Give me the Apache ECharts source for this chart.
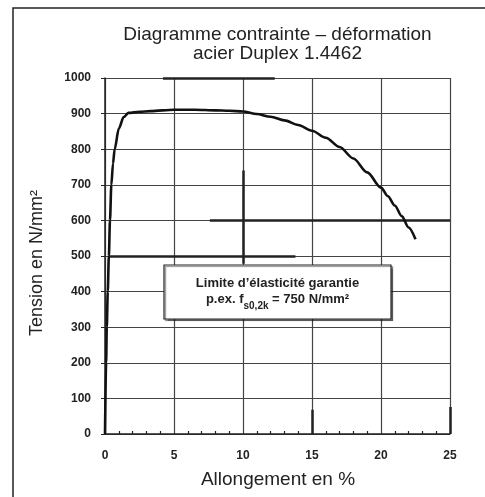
<!DOCTYPE html>
<html>
<head>
<meta charset="utf-8">
<script src="https://cdn.jsdelivr.net/npm/echarts@6/dist/echarts.min.js"></script>
<style>
  html, body { margin: 0; padding: 0; background: #fff; }
  #chartMain { width: 485px; height: 497px; }
</style>
</head>
<body>
<div id="chartMain"></div>
<script>
// allongement (%) et tension (N/mm²)
var strain = [0, 0.08, 0.13, 0.2, 0.28, 0.36, 0.46, 0.58, 0.7, 1.0, 1.35, 1.7, 2.5, 3.3, 5, 6.5, 8, 9, 10, 11, 12, 13, 14, 15, 16, 17, 18, 19, 20, 20.5, 21, 21.5, 22, 22.5];
var stress = [0, 200, 300, 400, 500, 600, 700, 760, 800, 858, 890, 902, 905, 907, 911, 911, 909, 908, 906, 899, 891, 881, 868, 852, 832, 806, 774, 735, 692, 668, 642, 612, 580, 547];

// traits de grille plus épais (défauts d'impression de l'original)
var thickSegments = [
  [[4.2, 1000], [12.3, 1000]],
  [[7.6, 600], [25, 600]],
  [[0.3, 500], [13.8, 500]],
  [[10, 740], [10, 478]],
  [[15, 0], [15, 68]],
  [[25, 0], [25, 76]]
];

var xTicks = [0, 5, 10, 15, 20, 25];
var yMax = 1000;

var title1 = 'Diagramme contrainte – déformation';
var title2 = 'acier Duplex 1.4462';
var xName = 'Allongement en %';
var yName = 'Tension en N/mm²';
var noteLine1 = 'Limite d’élasticité garantie';

var myChart = echarts.init(document.getElementById('chartMain'));

var font = 'Liberation Sans, Arial, sans-serif';

var option = {
  animation: false,
  backgroundColor: '#fff',
  grid: { left: 105, top: 78, right: 35, bottom: 63 },
  xAxis: {
    type: 'value',
    min: xTicks[0],
    max: xTicks[xTicks.length - 1],
    interval: 5,
    axisLine: { show: true, lineStyle: { color: '#222', width: 1.5 } },
    axisTick: { show: false, inside: true },
    minorTick: { show: true, splitNumber: 5, length: 3, lineStyle: { color: '#222', width: 1.2 } },
    splitLine: { show: true, lineStyle: { color: '#444', width: 1.2 } },
    axisLabel: { color: '#222', fontSize: 12, fontWeight: 'bold', fontFamily: font, margin: 16 }
  },
  yAxis: {
    type: 'value',
    min: 0,
    max: yMax,
    interval: 100,
    axisLine: { show: true, lineStyle: { color: '#222', width: 1.5 } },
    axisTick: { show: true, length: 4, lineStyle: { color: '#222' } },
    splitLine: { show: true, lineStyle: { color: '#444', width: 1.2 } },
    axisLabel: {
      color: '#222', fontSize: 12, fontWeight: 'bold', fontFamily: font, margin: 14,
      formatter: function (v) { return String(v); }
    }
  },
  series: [
    {
      type: 'lines',
      coordinateSystem: 'cartesian2d',
      silent: true,
      lineStyle: { color: '#222', width: 2.5, opacity: 1 },
      data: thickSegments.map(function (s) { return { coords: s }; }),
      z: 3
    },
    {
      type: 'line',
      data: strain.map(function (x, i) { return [x, stress[i]]; }),
      smooth: 0.3,
      smoothMonotone: 'x',
      showSymbol: false,
      lineStyle: { color: '#111', width: 2.6 },
      z: 4
    }
  ],
  graphic: [
    {
      type: 'rect',
      shape: { x: 13, y: 8, width: 520, height: 520 },
      style: { fill: 'none', stroke: '#222', lineWidth: 1.5 },
      silent: true
    },
    {
      type: 'text',
      x: 277.5, y: 44,
      style: {
        text: title1 + '\n' + title2,
        fill: '#222', font: '19px ' + font,
        align: 'center', verticalAlign: 'middle', lineHeight: 19
      }
    },
    {
      type: 'text',
      x: 278, y: 480,
      style: {
        text: xName, fill: '#222', font: '19px ' + font,
        align: 'center', verticalAlign: 'middle'
      }
    },
    {
      type: 'text',
      x: 37, y: 263, rotation: Math.PI / 2,
      style: {
        text: yName, fill: '#222', font: '18px ' + font,
        align: 'center', verticalAlign: 'middle'
      }
    },
    {
      type: 'rect',
      z: 10,
      shape: { x: 164, y: 265, width: 227, height: 54 },
      style: {
        fill: '#fff', stroke: '#222', lineWidth: 1.2,
        shadowColor: 'rgba(0,0,0,0.45)', shadowOffsetX: 1.5, shadowOffsetY: 1.5, shadowBlur: 1
      }
    },
    {
      type: 'text',
      z: 11,
      x: 277.5, y: 283,
      style: {
        text: noteLine1, fill: '#222', font: 'bold 13px ' + font,
        align: 'center', verticalAlign: 'middle'
      }
    },
    {
      type: 'text',
      z: 11,
      x: 277.5, y: 302,
      style: {
        text: '{a|p.ex. f}{s|s0,2k}{a| = 750 N/mm²}',
        align: 'center', verticalAlign: 'middle',
        rich: {
          a: { fill: '#222', fontSize: 13, fontWeight: 'bold', fontFamily: font, lineHeight: 18, verticalAlign: 'top', padding: [0, 0, 0, 0] },
          s: { fill: '#222', fontSize: 10, fontWeight: 'bold', fontFamily: font, lineHeight: 18, verticalAlign: 'bottom', padding: [6, 0, 0, 0] }
        }
      }
    }
  ]
};

myChart.setOption(option, true);
</script>
</body>
</html>
